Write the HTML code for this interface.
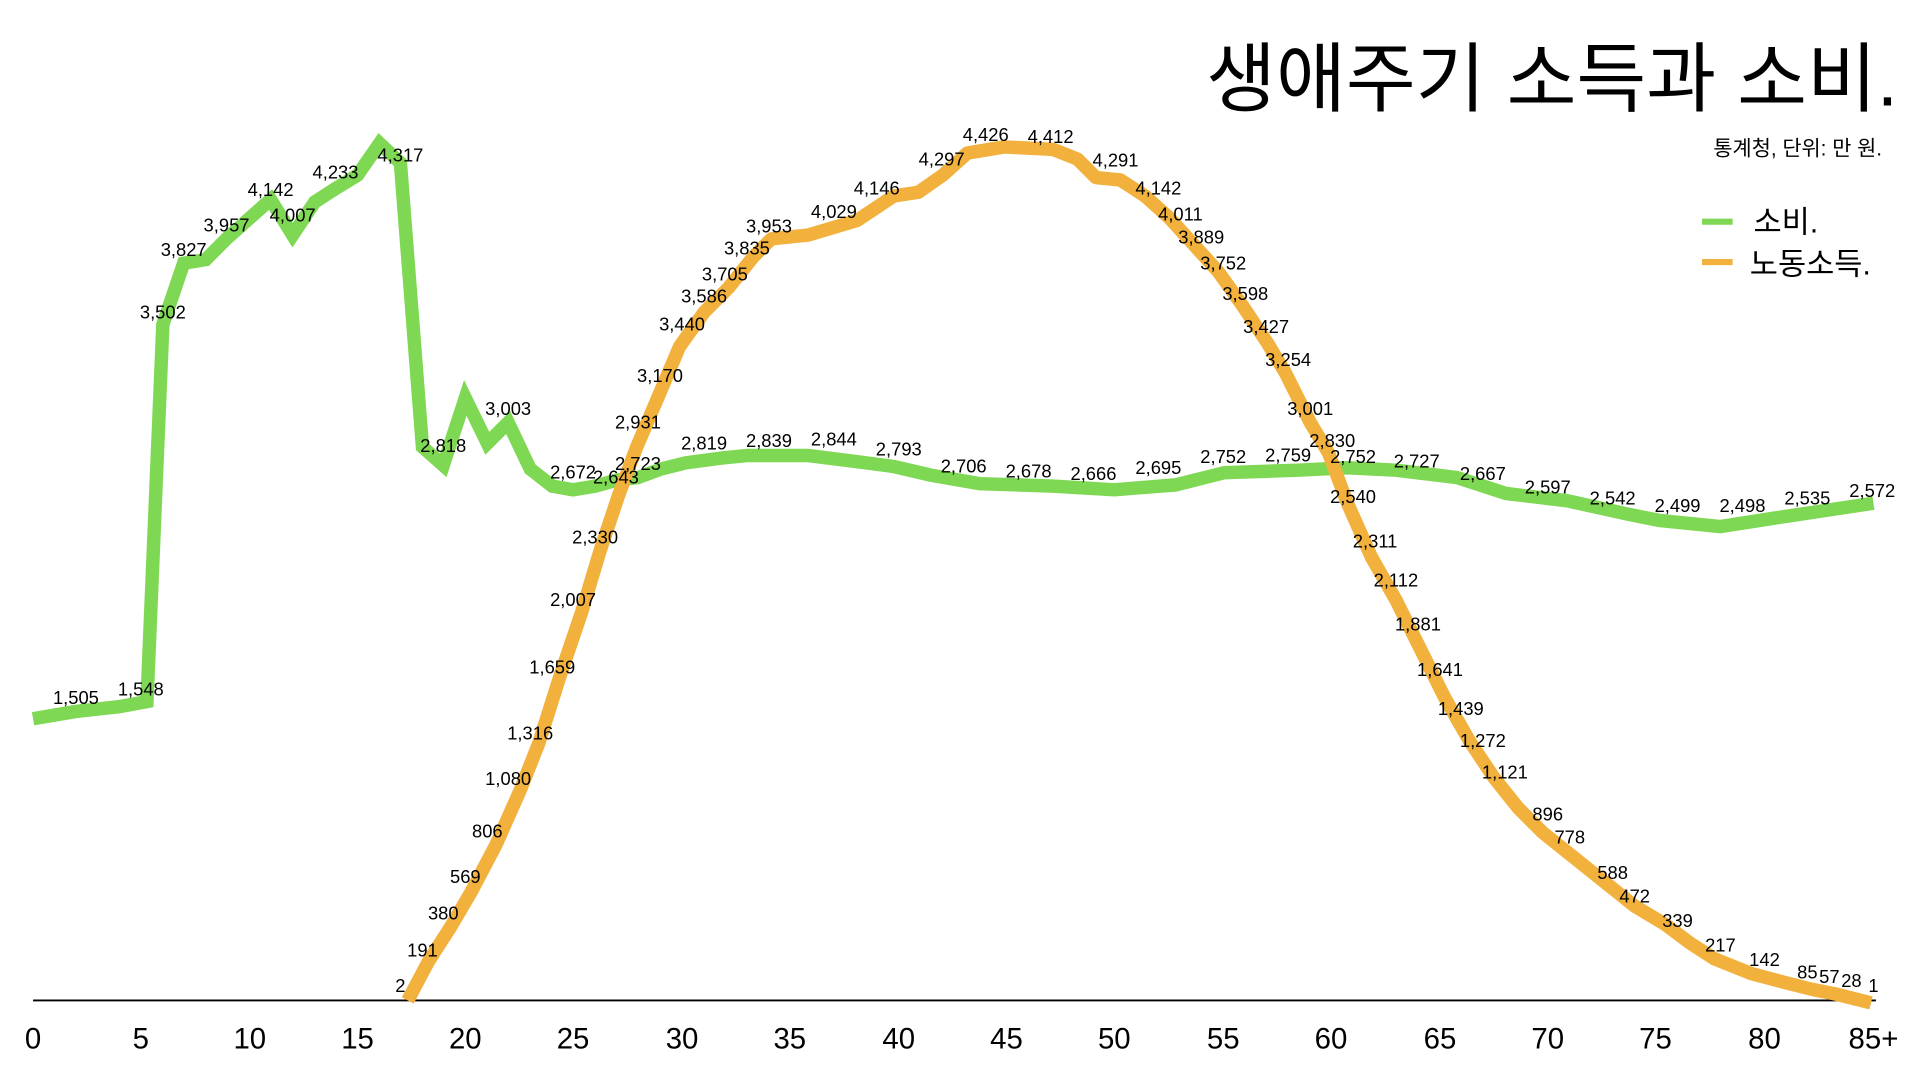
<!DOCTYPE html>
<html><head><meta charset="utf-8"><style>
html,body{margin:0;padding:0;background:#fff;}
svg{display:block;}
text{font-family:"Liberation Sans","Noto Sans CJK KR",sans-serif;fill:#000;}
.l{font-size:15px;text-anchor:middle;dominant-baseline:middle;}
.t{font-size:24px;text-anchor:middle;dominant-baseline:middle;}
</style></head><body>
<svg width="1920" height="1080" viewBox="0 0 1568 882" preserveAspectRatio="none">
<line x1="27" y1="817" x2="1532" y2="817" stroke="#000" stroke-width="1.5"/>
<polyline fill="none" stroke="#7fd854" stroke-width="11" stroke-linejoin="miter" points="27,587 62,581 98,577 120,573 133,265 150,215 168,212 185,195 204,178 221,163 239,192 257,165 274,154 292,143 310,117 327,133 345,365 362,380 380,325 398,362 415,345 433,383 451,397 468,400 486,397 504,392 521,390 540,383 560,378 590,374 610,372 660,372 700,377 730,381 760,388 800,395 860,397 910,400 960,396 1000,386 1060,384 1100,382 1140,384 1190,390 1230,403 1280,409 1330,420 1355,425 1405,430 1450,423 1530,411"/>
<polyline fill="none" stroke="#f1b13c" stroke-width="11" stroke-linejoin="round" points="333,817 350,785 368,757 385,728 405,690 425,645 440,607 458,550 475,500 490,450 505,405 520,365 535,330 555,283 575,255 595,235 615,210 630,195 660,192 700,180 730,160 750,157 770,143 790,125 820,120 860,122 880,130 895,145 915,147 935,160 955,178 975,200 995,222 1015,250 1035,280 1050,305 1070,345 1085,370 1100,410 1120,455 1140,490 1160,530 1180,570 1200,605 1220,635 1240,660 1260,680 1285,700 1310,720 1335,740 1360,755 1380,770 1400,783 1430,795 1460,803 1480,808 1500,812 1528,819"/>
<g class="l">
<text x="62" y="571">1,505</text><text x="115" y="564">1,548</text><text x="133" y="256">3,502</text><text x="150" y="205">3,827</text><text x="185" y="185">3,957</text><text x="221" y="156">4,142</text><text x="239" y="177">4,007</text><text x="274" y="142">4,233</text><text x="327" y="128">4,317</text><text x="362" y="365">2,818</text><text x="415" y="335">3,003</text><text x="468" y="387">2,672</text><text x="503" y="391">2,643</text><text x="521" y="380">2,723</text><text x="575" y="363">2,819</text><text x="628" y="361">2,839</text><text x="681" y="360">2,844</text><text x="734" y="368">2,793</text><text x="787" y="382">2,706</text><text x="840" y="386">2,678</text><text x="893" y="388">2,666</text><text x="946" y="383">2,695</text><text x="999" y="374">2,752</text><text x="1052" y="373">2,759</text><text x="1105" y="374">2,752</text><text x="1157" y="378">2,727</text><text x="1211" y="388">2,667</text><text x="1264" y="399">2,597</text><text x="1317" y="408">2,542</text><text x="1370" y="414">2,499</text><text x="1423" y="414">2,498</text><text x="1476" y="408">2,535</text><text x="1529" y="402">2,572</text>
<text x="327" y="806">2</text><text x="345" y="777">191</text><text x="362" y="747">380</text><text x="380" y="717">569</text><text x="398" y="680">806</text><text x="415" y="637">1,080</text><text x="433" y="600">1,316</text><text x="451" y="546">1,659</text><text x="468" y="491">2,007</text><text x="486" y="440">2,330</text><text x="521" y="346">2,931</text><text x="539" y="308">3,170</text><text x="557" y="266">3,440</text><text x="575" y="243">3,586</text><text x="592" y="225">3,705</text><text x="610" y="204">3,835</text><text x="628" y="186">3,953</text><text x="681" y="174">4,029</text><text x="716" y="155">4,146</text><text x="769" y="131">4,297</text><text x="805" y="111">4,426</text><text x="858" y="113">4,412</text><text x="911" y="132">4,291</text><text x="946" y="155">4,142</text><text x="964" y="176">4,011</text><text x="981" y="195">3,889</text><text x="999" y="216">3,752</text><text x="1017" y="241">3,598</text><text x="1034" y="268">3,427</text><text x="1052" y="295">3,254</text><text x="1070" y="335">3,001</text><text x="1088" y="361">2,830</text><text x="1105" y="407">2,540</text><text x="1123" y="443">2,311</text><text x="1140" y="475">2,112</text><text x="1158" y="511">1,881</text><text x="1176" y="548">1,641</text><text x="1193" y="580">1,439</text><text x="1211" y="606">1,272</text><text x="1229" y="632">1,121</text><text x="1264" y="666">896</text><text x="1282" y="685">778</text><text x="1317" y="714">588</text><text x="1335" y="733">472</text><text x="1370" y="753">339</text><text x="1405" y="773">217</text><text x="1441" y="785">142</text><text x="1476" y="795">85</text><text x="1494" y="799">57</text><text x="1512" y="802">28</text><text x="1530" y="806">1</text>
</g>
<g class="t">
<text x="27" y="850">0</text><text x="115" y="850">5</text><text x="204" y="850">10</text><text x="292" y="850">15</text><text x="380" y="850">20</text><text x="468" y="850">25</text><text x="557" y="850">30</text><text x="645" y="850">35</text><text x="734" y="850">40</text><text x="822" y="850">45</text><text x="910" y="850">50</text><text x="999" y="850">55</text><text x="1087" y="850">60</text><text x="1176" y="850">65</text><text x="1264" y="850">70</text><text x="1352" y="850">75</text><text x="1441" y="850">80</text><text x="1530" y="850">85+</text>
</g>
<text x="1550" y="86" text-anchor="end" style="font-size:62px">생애주기 소득과 소비.</text>
<text x="1537" y="127" text-anchor="end" style="font-size:17px">통계청, 단위: 만 원.</text>
<line x1="1390" y1="181" x2="1415" y2="181" stroke="#7fd854" stroke-width="5"/>
<text x="1432" y="190" style="font-size:25px">소비.</text>
<line x1="1390" y1="214" x2="1415" y2="214" stroke="#f1b13c" stroke-width="5"/>
<text x="1429" y="224" style="font-size:25px">노동소득.</text>
</svg>
</body></html>
